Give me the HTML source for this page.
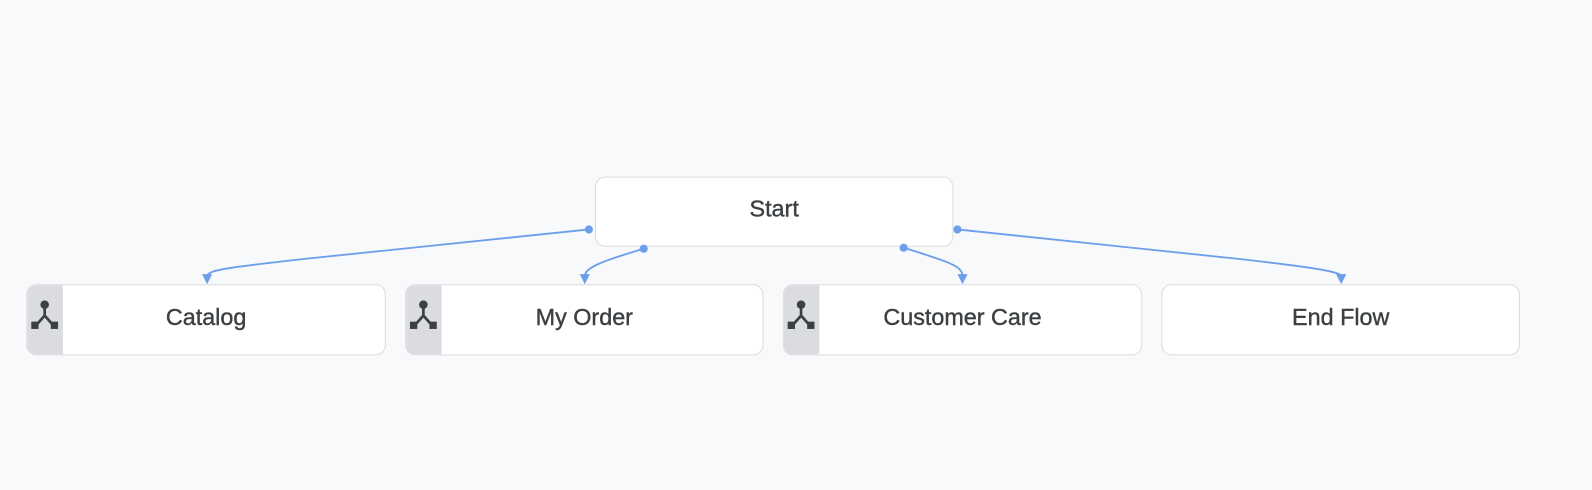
<!DOCTYPE html>
<html><head><style>
body{margin:0;width:1592px;height:490px;background:#f8f9fa;position:relative;overflow:hidden;font-family:"Liberation Sans",Arial,sans-serif;}
#w{position:absolute;left:0;top:0;width:1568px;height:483px;transform:scale(1.0153);transform-origin:0 0;}
.n{position:absolute;box-sizing:border-box;background:#fff;border:1.5px solid #dadce0;border-radius:10px;display:flex;align-items:center;justify-content:center;font-size:23px;color:#3c4043;overflow:hidden;-webkit-text-stroke:0.4px #3c4043;padding-bottom:6px;}
.ic{position:absolute;left:0;top:0;bottom:0;width:35px;background:#dadce0;}
.lbl{position:absolute;top:0;bottom:6px;left:0;right:0;display:flex;align-items:center;justify-content:center;}
svg{position:absolute;left:0;top:0;}
</style></head><body><div id="w">
<div class="n" style="left:586px;top:174px;width:353px;height:69px;">Start</div>
<div class="n" style="left:26px;top:280px;width:354px;height:70px;"><div class="ic"></div><div class="lbl">Catalog</div></div>
<div class="n" style="left:399px;top:280px;width:353px;height:70px;"><div class="ic"></div><div class="lbl">My Order</div></div>
<div class="n" style="left:771px;top:280px;width:354px;height:70px;"><div class="ic"></div><div class="lbl">Customer Care</div></div>
<div class="n" style="left:1144px;top:280px;width:353px;height:70px;">End Flow</div>
<svg width="1568" height="483">
<defs><g id="ico" fill="#3c4043" stroke="#3c4043" transform="scale(1.2)">
<circle cx="0" cy="-10" r="3.5" stroke="none"/>
<path d="M0 -8 V-1 M0 -1 L-7 7 M0 -1 L7 7" stroke-width="2.2" fill="none"/>
<rect x="-11" y="4" width="6" height="6" stroke="none"/><rect x="5" y="4" width="6" height="6" stroke="none"/>
</g></defs>
<use href="#ico" x="44" y="312"/><use href="#ico" x="417" y="312"/><use href="#ico" x="789" y="312"/>
<g stroke="#6c9eeb" stroke-width="1.8" fill="none">
<path d="M580 226 L300 255 C220 264 205 266 204 272"/>
<path d="M634 245 C590 258 576 264 576 272"/>
<path d="M890 244 C935 258 948 262 948 272"/>
<path d="M943 226 L1220 255 C1300 264 1320 268 1321 272"/>
</g>
<g fill="#6c9eeb">
<circle cx="580" cy="226" r="4"/><circle cx="634" cy="245" r="4"/><circle cx="890" cy="244" r="4"/><circle cx="943" cy="226" r="4"/>
<path d="M199 270 L209 270 L204 280Z"/><path d="M571 270 L581 270 L576 280Z"/><path d="M943 270 L953 270 L948 280Z"/><path d="M1316 270 L1326 270 L1321 280Z"/>
</g>
</svg>
</div></body></html>
